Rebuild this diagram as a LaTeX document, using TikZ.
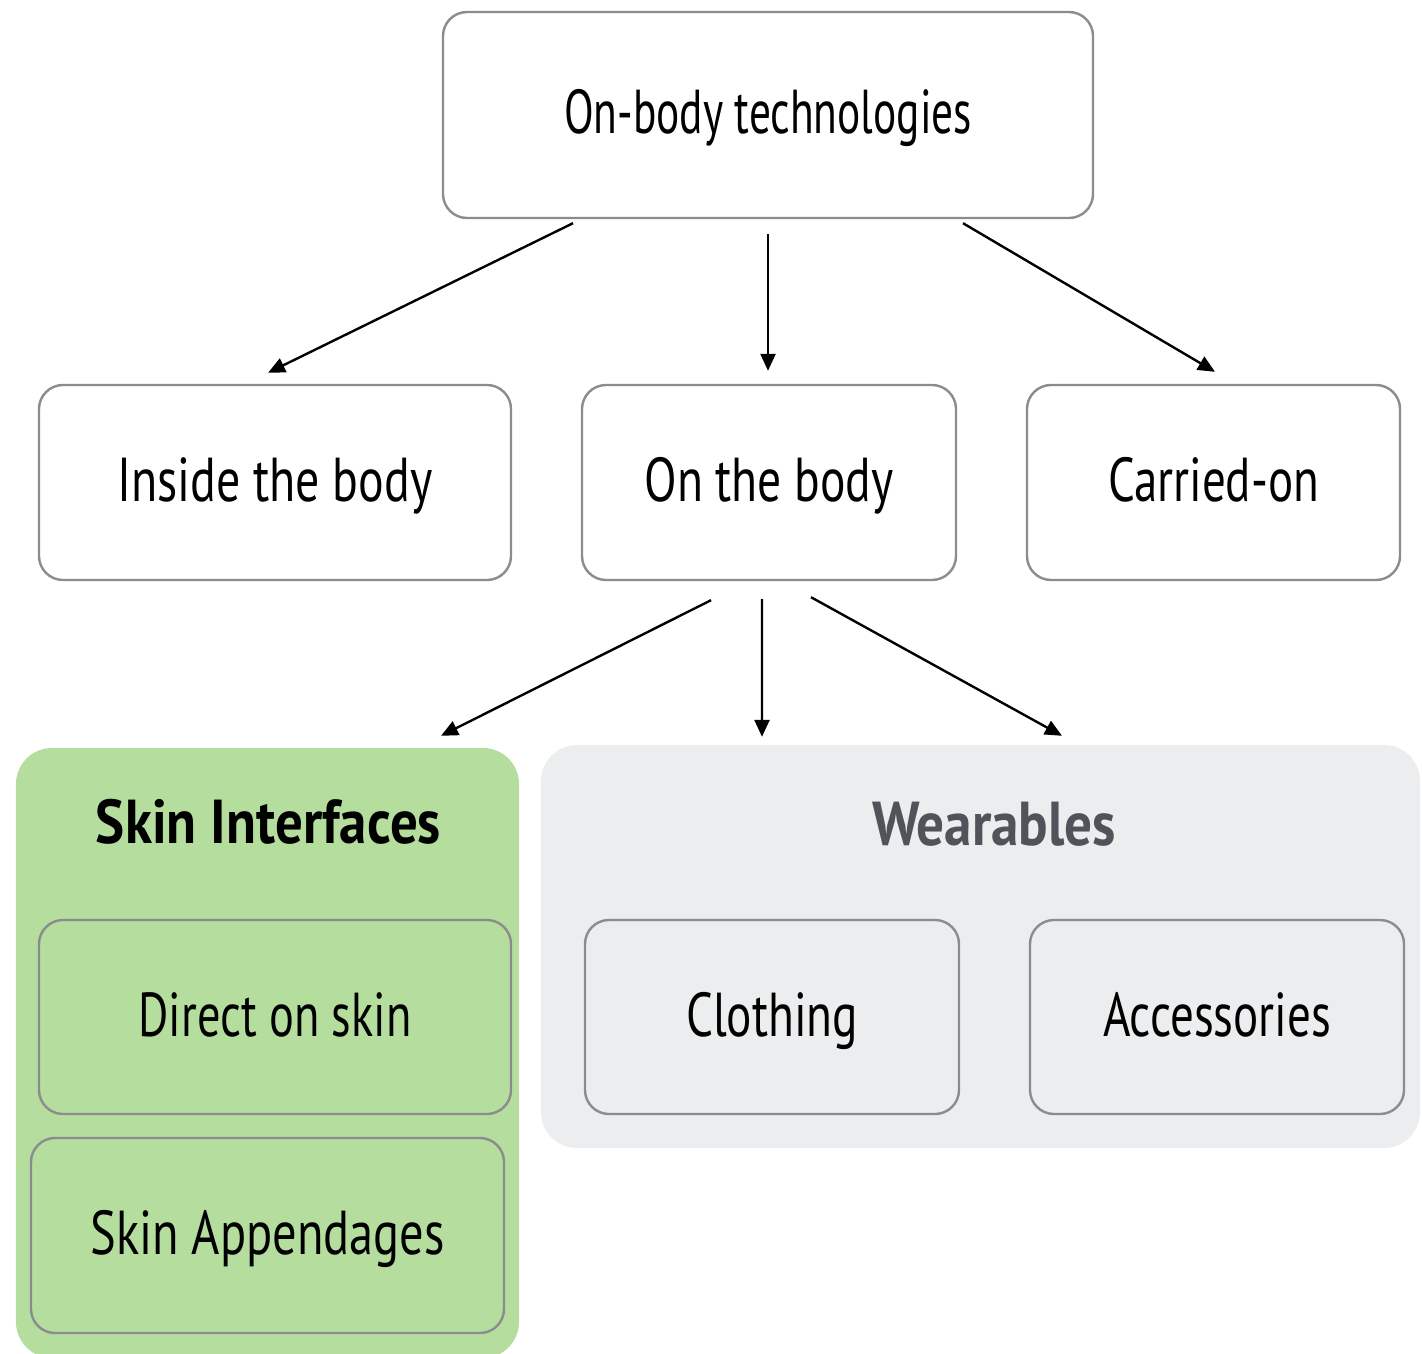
\documentclass[tikz,border=0pt]{standalone}
\usepackage{fontspec}
\setmainfont{PT Sans}
\usepackage{graphicx}
\usetikzlibrary{arrows.meta,calc}
\definecolor{boxgray}{HTML}{8C8C90}
\definecolor{skingreen}{HTML}{B5DE9E}
\definecolor{wearbg}{HTML}{ECEDEF}
\definecolor{weartext}{HTML}{50545A}
\newcommand\fitt[2]{\resizebox{#1bp}{\height}{#2}}
\tikzset{
  box/.style={draw=boxgray, line width=2.4bp, rounded corners=24bp, inner sep=0pt,
    text height=38bp, text depth=0pt, align=center},
  panel/.style={rounded corners=36bp, inner sep=0pt},
  lbl/.style={inner sep=0pt, text height=38bp, text depth=0pt},
  arr/.style={line width=2.4bp, -{Triangle[length=17bp,width=15bp]}},
}
\begin{document}
\begin{tikzpicture}[x=1bp,y=-1bp,font=\fontsize{62bp}{70bp}\selectfont]
\useasboundingbox (0,0) rectangle (1422,1354);
\clip (0,0) rectangle (1422,1354);
% panels
\node[panel, fill=skingreen, minimum width=503bp, minimum height=610bp] (skin) at (267.5,1053) {};
\node[panel, fill=wearbg, minimum width=879bp, minimum height=403bp] (wear) at (980.5,946.5) {};
\node[lbl] (skinlbl) at (268.5,824) {\fitt{345}{\bfseries Skin Interfaces}};
\node[lbl, text=weartext] (wearlbl) at (994,826.5) {\fitt{244}{\bfseries Wearables}};
% boxes
\node[box, fill=white, minimum width=650bp, minimum height=206bp] (top) at (768,115) {\fitt{408}{On-body technologies}};
\node[box, fill=white, minimum width=472bp, minimum height=195bp] (inside) at (275,482.5) {\fitt{315}{Inside the body}};
\node[box, fill=white, minimum width=374bp, minimum height=195bp] (onbody) at (769,482.5) {\fitt{249}{On the body}};
\node[box, fill=white, minimum width=373bp, minimum height=195bp] (carried) at (1213.5,482.5) {\fitt{211}{Carried-on}};
\node[box, minimum width=472bp, minimum height=194bp] (direct) at (275,1017) {\fitt{273}{Direct on skin}};
\node[box, minimum width=473bp, minimum height=195bp] (append) at (267.5,1235.5) {\fitt{354}{Skin Appendages}};
\node[box, minimum width=374bp, minimum height=194bp] (cloth) at (772,1017) {\fitt{172}{Clothing}};
\node[box, minimum width=374bp, minimum height=194bp] (access) at (1217,1017) {\fitt{228}{Accessories}};
% arrows
\draw[arr] ([xshift=-195bp,yshift=-4bp]top.south) -- ([xshift=-7bp,yshift=11bp]inside.north);
\draw[arr] ([yshift=-15bp]top.south) -- ([xshift=-1bp,yshift=13bp]onbody.north);
\draw[arr] ([xshift=195bp,yshift=-4bp]top.south) -- ([xshift=1.5bp,yshift=12bp]carried.north);
\draw[arr] ([xshift=-58bp,yshift=-19bp]onbody.south) -- ([xshift=173.5bp,yshift=12bp]skin.north);
\draw[arr] ([xshift=-7bp,yshift=-18bp]onbody.south) -- ([xshift=-218.5bp,yshift=8bp]wear.north);
\draw[arr] ([xshift=42bp,yshift=-16bp]onbody.south) -- ([xshift=81.5bp,yshift=9bp]wear.north);
\end{tikzpicture}
\end{document}
